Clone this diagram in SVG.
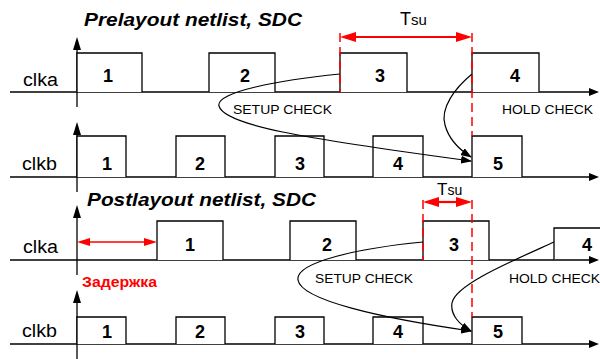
<svg xmlns="http://www.w3.org/2000/svg" width="600" height="359" viewBox="0 0 600 359">
<defs>
<style>
.ln{stroke:#000;stroke-width:1.3;fill:none}
.pulse{stroke:#000;stroke-width:1.3;fill:#fff}
.sig{font-family:"Liberation Sans",Arial,sans-serif;font-size:18px;fill:#000}
.num{font-family:"Liberation Sans",Arial,sans-serif;font-size:18px;font-weight:bold;fill:#000;text-anchor:middle}
.title{font-family:"Liberation Sans",Arial,sans-serif;font-size:18px;font-weight:bold;font-style:italic;fill:#000}
.chk{font-family:"Liberation Sans",Arial,sans-serif;font-size:13.5px;fill:#000}
.tsu{font-family:"Liberation Sans",Arial,sans-serif;fill:#000}
.dash{stroke:#f00;stroke-width:1.5;stroke-dasharray:9 5;fill:none}
.red{stroke:#f00;fill:none}
.cur{stroke:#000;stroke-width:1.2;fill:none}
</style>
<marker id="ax" markerUnits="userSpaceOnUse" markerWidth="13" markerHeight="8" refX="0" refY="4" orient="auto"><path d="M0,0 L13,4 L0,8 z" fill="#000"/></marker>
<marker id="hx" markerUnits="userSpaceOnUse" markerWidth="10" markerHeight="8" refX="0" refY="4" orient="auto"><path d="M0,0 L10,4 L0,8 z" fill="#000"/></marker>
<marker id="ca" markerUnits="userSpaceOnUse" markerWidth="11" markerHeight="8" refX="10" refY="4" orient="auto"><path d="M0,0 L11,4 L0,8 z" fill="#000"/></marker>
<marker id="rt" markerUnits="userSpaceOnUse" markerWidth="16" markerHeight="10" refX="0" refY="5" orient="auto-start-reverse"><path d="M0,0 L16,5 L0,10 z" fill="#f00"/></marker>
<marker id="rd" markerUnits="userSpaceOnUse" markerWidth="13" markerHeight="8" refX="0" refY="4" orient="auto-start-reverse"><path d="M0,0 L13,4 L0,8 z" fill="#f00"/></marker>
</defs>
<rect width="600" height="359" fill="#fff"/>

<text class="title" x="84" y="26" textLength="218" lengthAdjust="spacingAndGlyphs">Prelayout netlist, SDC</text>
<text class="title" x="87" y="206" textLength="229" lengthAdjust="spacingAndGlyphs">Postlayout netlist, SDC</text>

<g id="top-clka">
<line class="ln" x1="77" y1="107" x2="77" y2="50" marker-end="url(#ax)"/>
<line class="ln" x1="10" y1="92" x2="589" y2="92" marker-end="url(#hx)"/>
<path class="pulse" d="M77,92 V53 H142 V92"/>
<path class="pulse" d="M209,92 V53 H275 V92"/>
<path class="pulse" d="M340,92 V53 H407 V92"/>
<path class="pulse" d="M472,92 V53 H539 V92"/>
<text class="sig" x="23" y="86" textLength="35" lengthAdjust="spacingAndGlyphs">clka</text>
<text class="num" x="108" y="82">1</text>
<text class="num" x="245" y="82">2</text>
<text class="num" x="380" y="82">3</text>
<text class="num" x="515" y="82">4</text>
</g>

<g id="top-clkb">
<line class="ln" x1="77" y1="192" x2="77" y2="135" marker-end="url(#ax)"/>
<line class="ln" x1="10" y1="177" x2="589" y2="177" marker-end="url(#hx)"/>
<path class="pulse" d="M77,177 V136 H126 V177"/>
<path class="pulse" d="M176,177 V136 H225 V177"/>
<path class="pulse" d="M275,177 V136 H324 V177"/>
<path class="pulse" d="M373,177 V136 H423 V177"/>
<path class="pulse" d="M472,177 V136 H522 V177"/>
<text class="sig" x="22" y="170" textLength="35" lengthAdjust="spacingAndGlyphs">clkb</text>
<text class="num" x="107" y="170">1</text>
<text class="num" x="200" y="170">2</text>
<text class="num" x="300" y="170">3</text>
<text class="num" x="398" y="170">4</text>
<text class="num" x="498" y="170">5</text>
</g>

<g id="top-tsu">
<line class="dash" x1="340" y1="33" x2="340" y2="92"/>
<line class="dash" x1="472" y1="33" x2="472" y2="136"/>
<line class="red" stroke-width="2.2" x1="356" y1="37" x2="456" y2="37" marker-start="url(#rt)" marker-end="url(#rt)"/>
<text class="tsu" x="400" y="25"><tspan font-size="18">T</tspan><tspan font-size="15">su</tspan></text>
</g>

<g id="bot-clka">
<line class="ln" x1="77" y1="275" x2="77" y2="218" marker-end="url(#ax)"/>
<line class="ln" x1="10" y1="260" x2="589" y2="260" marker-end="url(#hx)"/>
<path class="pulse" d="M157,260 V221 H223 V260"/>
<path class="pulse" d="M290,260 V221 H356 V260"/>
<path class="pulse" d="M423,260 V221 H489 V260"/>
<path class="pulse" d="M554,260 V228 H602"/>
<text class="sig" x="23" y="253" textLength="35" lengthAdjust="spacingAndGlyphs">clka</text>
<text class="num" x="190" y="251">1</text>
<text class="num" x="327" y="251">2</text>
<text class="num" x="454" y="251">3</text>
<text class="num" x="587" y="251">4</text>
</g>

<g id="delay">
<line class="red" stroke-width="1.5" x1="90" y1="242" x2="144" y2="242" marker-start="url(#rd)" marker-end="url(#rd)"/>
<text x="82" y="287" font-family="'Liberation Sans',Arial,sans-serif" font-size="14" font-weight="bold" fill="#f00" textLength="75" lengthAdjust="spacingAndGlyphs">Задержка</text>
</g>

<g id="bot-clkb">
<line class="ln" x1="77" y1="359" x2="77" y2="303" marker-end="url(#ax)"/>
<line class="ln" x1="10" y1="344" x2="589" y2="344" marker-end="url(#hx)"/>
<path class="pulse" d="M77,344 V317 H126 V344"/>
<path class="pulse" d="M176,344 V317 H225 V344"/>
<path class="pulse" d="M275,344 V317 H324 V344"/>
<path class="pulse" d="M373,344 V317 H423 V344"/>
<path class="pulse" d="M472,344 V317 H522 V344"/>
<text class="sig" x="22" y="337" textLength="35" lengthAdjust="spacingAndGlyphs">clkb</text>
<text class="num" x="107" y="338">1</text>
<text class="num" x="200" y="338">2</text>
<text class="num" x="300" y="338">3</text>
<text class="num" x="398" y="338">4</text>
<text class="num" x="498" y="338">5</text>
</g>

<g id="bot-tsu">
<line class="dash" x1="423" y1="200" x2="423" y2="260"/>
<line class="dash" x1="472" y1="200" x2="472" y2="317"/>
<line class="red" stroke-width="2.2" x1="439" y1="202" x2="456" y2="202" marker-start="url(#rt)" marker-end="url(#rt)"/>
<text class="tsu" x="437" y="195"><tspan font-size="17">T</tspan><tspan font-size="14">su</tspan></text>
</g>

<g id="connectors">
<path class="cur" d="M340,74 C280,80 215,92 219,106 C224,125 300,138 471,161" marker-end="url(#ca)"/>
<path class="cur" d="M472,74 C455,88 440,108 445,125 C449,140 460,150 471,157" marker-end="url(#ca)"/>
<path class="cur" d="M423,242 C360,248 295,262 298,280 C301,300 380,318 471,331" marker-end="url(#ca)"/>
<path class="cur" d="M554,242 C510,262 455,285 452,303 C450,315 460,325 471,331" marker-end="url(#ca)"/>
</g>

<g id="labels">
<text class="chk" x="233" y="114" textLength="99" lengthAdjust="spacingAndGlyphs">SETUP CHECK</text>
<text class="chk" x="502" y="114" textLength="91" lengthAdjust="spacingAndGlyphs">HOLD CHECK</text>
<text class="chk" x="315" y="283" textLength="98" lengthAdjust="spacingAndGlyphs">SETUP CHECK</text>
<text class="chk" x="509" y="283" textLength="91" lengthAdjust="spacingAndGlyphs">HOLD CHECK</text>
</g>
</svg>
